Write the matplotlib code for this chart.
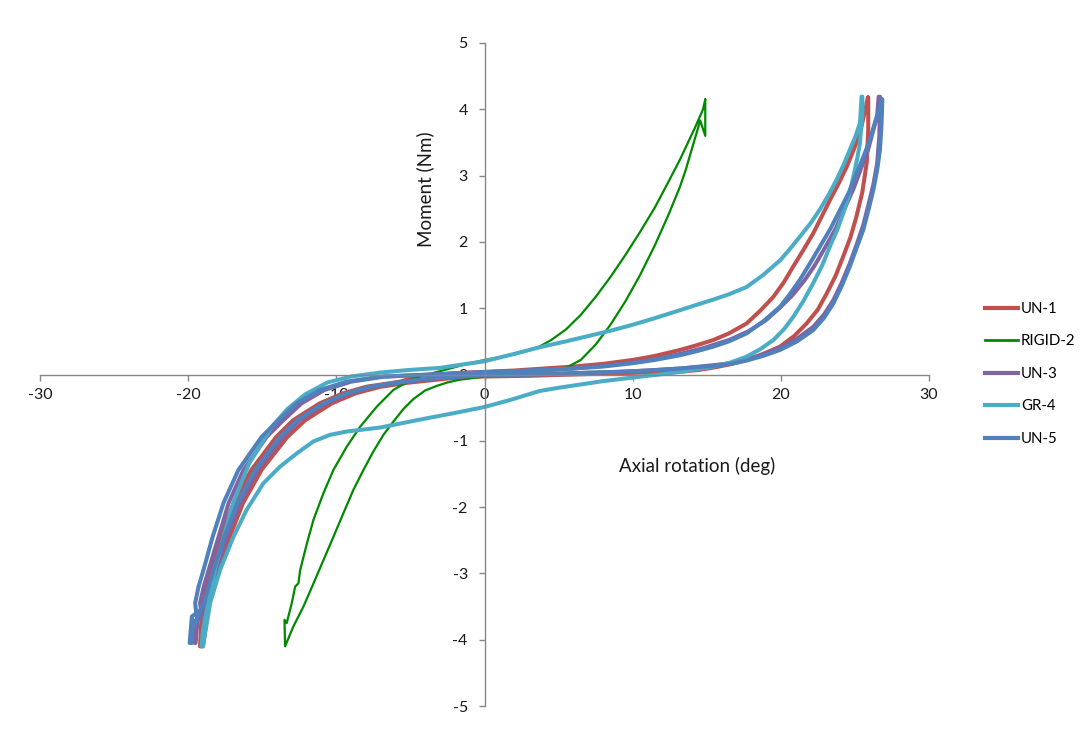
import matplotlib
matplotlib.use("Agg")
import matplotlib.pyplot as plt
from matplotlib.lines import Line2D

plt.rcParams['font.family'] = ['Lato', 'DejaVu Sans']
plt.rcParams['axes.unicode_minus'] = False

# Hysteresis loops. Each specimen has an "upper" branch (top-right tip back to
# the bottom-left tip) and a "lower" branch (bottom-left tip up to the top-right tip).
un1_upper_x = [25.88, 25.6, 25.34, 24.9, 24.44, 23.9, 23.31, 22.75, 22.19, 21.5, 20.84, 20.2, 19.49, 18.6, 17.69, 16.5, 15.44, 14.3, 13.19, 11.5, 10, 8, 6, 4, 2, 0, -2, -4.35,
               -5.7, -7.97, -9.55, -11.12, -12.92, -14.05, -15.74, -16.93, -17.81, -18.55, -19.05, -19.2]
un1_upper_y = [4.18, 3.9, 3.64, 3.38, 3.13, 2.88, 2.63, 2.38, 2.13, 1.87, 1.63, 1.39, 1.17, 0.96, 0.77, 0.62, 0.52, 0.44, 0.37, 0.28, 0.22, 0.16, 0.12, 0.09, 0.06, 0.04, 0.02, -0.02,
               -0.108, -0.184, -0.284, -0.435, -0.69, -0.94, -1.44, -1.94, -2.45, -2.95, -3.45, -4.1]
un1_lower_x = [-19.0, -18.6, -18.0, -17.2, -16.3, -15.05, -13.3, -12.1, -10.3, -8.7, -7.0, -5.0, -2, 0, 3, 6, 9, 11, 13.19, 14.5,
               15.6, 16.7, 17.69, 18.8, 19.94, 20.9, 21.74, 22.5, 23.09, 23.7, 24.21, 24.7, 25.1, 25.5, 25.8, 25.9, 25.9]
un1_lower_y = [-4.1, -3.45, -2.95, -2.45, -1.94, -1.44, -0.94, -0.69, -0.435, -0.284, -0.184, -0.12, -0.05, -0.03, -0.02, 0.0, 0.02, 0.03, 0.04, 0.07,
               0.11, 0.16, 0.22, 0.31, 0.42, 0.58, 0.77, 0.98, 1.22, 1.49, 1.78, 2.07, 2.38, 2.75, 3.2, 3.7, 4.18]

rigid2_upper_x = [14.9, 14.75, 14.2, 13.19, 12.4, 11.5, 10.5, 9.5, 8.5, 7.5, 6.5, 5.5, 4.5, 3.7, 2.0, 0, -1.5, -3.0, -4.8, -6.15,
                  -7.27, -8.4, -9.3, -10.2, -10.87, -11.54, -11.99, -12.44, -12.56, -12.78, -13.01, -13.35, -13.5, -13.46]
rigid2_upper_y = [4.15, 4.0, 3.72, 3.24, 2.9, 2.52, 2.15, 1.8, 1.47, 1.17, 0.9, 0.68, 0.52, 0.42, 0.3, 0.22, 0.14, 0.05, -0.058, -0.233,
                  -0.485, -0.79, -1.09, -1.44, -1.79, -2.19, -2.55, -2.95, -3.15, -3.2, -3.45, -3.75, -3.7, -4.1]
rigid2_lower_x = [-12.9, -12.22, -11.54, -10.87, -10.2, -9.52, -8.85, -8.17, -7.5, -6.82, -6.15, -5.47, -4.8, -4.0, -3.2, -2.5, -1.7, 0, 2, 4,
                  5.5, 6.5, 7.5, 8.5, 9.5, 10.5, 11.5, 12.4, 13.19, 13.6, 13.9, 14.56, 14.9, 14.9]
rigid2_lower_y = [-3.8, -3.5, -3.15, -2.8, -2.45, -2.09, -1.74, -1.44, -1.16, -0.91, -0.71, -0.52, -0.37, -0.24, -0.17, -0.12, -0.08, -0.03, 0.0, 0.04,
                  0.1, 0.22, 0.45, 0.75, 1.1, 1.5, 1.95, 2.4, 2.83, 3.1, 3.33, 3.83, 3.6, 4.15]

un3_upper_x = [26.6, 26.5, 26.2, 25.9, 25.4, 24.9, 24.3, 23.7, 23.0, 22.3, 21.6, 20.8, 19.9, 19.0, 17.8, 16.5, 14.8, 13.19, 11.5, 10, 8, 6, 4, 2, 0, -2, -4.2,
               -6.8, -9.0, -10.8, -12.35, -13.58, -14.7, -16.27, -17.27, -17.95, -18.62, -18.95, -19.2, -19.1, -19.4, -19.55]
un3_upper_y = [4.19, 3.9, 3.65, 3.4, 3.1, 2.8, 2.5, 2.2, 1.92, 1.65, 1.42, 1.2, 1.0, 0.82, 0.65, 0.52, 0.4, 0.31, 0.23, 0.18, 0.13, 0.09, 0.07, 0.05, 0.035, 0.015, -0.005,
               -0.033, -0.108, -0.233, -0.435, -0.69, -0.94, -1.44, -1.94, -2.45, -2.95, -3.2, -3.45, -3.6, -3.65, -4.05]
un3_lower_x = [-19.5, -19.35, -19.1, -18.75, -18.1, -17.4, -16.5, -15.3, -13.6, -12.5, -10.7, -9.1, -7.5, -5.3, -3, 0, 3, 6, 9, 11,
               13.19, 15.44, 16.6, 17.69, 18.8, 19.94, 21.1, 22.19, 22.9, 23.54, 24.1, 24.66, 25.1, 25.56, 25.9, 26.24, 26.5, 26.65, 26.7]
un3_lower_y = [-4.05, -3.65, -3.7, -3.45, -2.95, -2.45, -1.94, -1.44, -0.94, -0.69, -0.435, -0.284, -0.184, -0.108, -0.05, -0.01, 0.0, 0.02, 0.04, 0.06,
               0.09, 0.14, 0.17, 0.23, 0.3, 0.4, 0.54, 0.72, 0.9, 1.12, 1.38, 1.68, 1.95, 2.25, 2.55, 2.86, 3.18, 3.6, 4.19]

gr4_upper_x = [25.45, 25.4, 25.34, 25.05, 24.66, 24.25, 23.77, 23.25, 22.64, 22.0, 21.29, 20.6, 19.94, 18.8, 17.69, 16.5, 15.44, 14.3, 13.19, 11.5,
               10, 8.5, 7, 5.5, 3.7, 2, 0, -1.5, -3, -5, -7, -9.0, -10.6, -12.1, -13.3, -14.4, -15.9, -16.9, -17.55, -18.2, -18.6, -19.0, -19.1]
gr4_upper_y = [4.19, 4.0, 3.79, 3.6, 3.39, 3.17, 2.94, 2.72, 2.49, 2.28, 2.08, 1.89, 1.72, 1.5, 1.32, 1.21, 1.13, 1.05, 0.97, 0.85,
               0.75, 0.66, 0.58, 0.5, 0.41, 0.31, 0.2, 0.15, 0.1, 0.07, 0.03, -0.03, -0.12, -0.3, -0.52, -0.8, -1.35, -1.9, -2.4, -2.95, -3.4, -3.85, -4.1]
gr4_lower_x = [-19.0, -18.52, -17.85, -16.95, -16.05, -14.92, -13.8, -12.67, -11.55, -10.42, -9.3, -7.05, -4.35, -2, 0, 1.8, 3.7, 5, 6.5, 8,
               9.5, 11, 12.2, 13.19, 14.3, 15.44, 16.6, 17.69, 18.6, 19.49, 20.2, 20.84, 21.5, 22.19, 22.8, 23.31, 23.8, 24.21, 24.6, 24.89,
               25.15, 25.34, 25.52, 25.5]
gr4_lower_y = [-4.1, -3.45, -2.95, -2.45, -2.04, -1.64, -1.39, -1.19, -1.01, -0.91, -0.86, -0.8, -0.68, -0.58, -0.49, -0.38, -0.25, -0.2, -0.15, -0.1,
               -0.06, -0.02, 0.01, 0.04, 0.08, 0.12, 0.18, 0.27, 0.38, 0.52, 0.68, 0.87, 1.1, 1.38, 1.65, 1.93, 2.18, 2.43, 2.7, 2.98,
               3.25, 3.49, 3.99, 4.19]

un5_upper_x = [26.8, 26.69, 26.35, 26.01, 25.6, 25.11, 24.6, 23.99, 23.35, 22.64, 21.95, 21.29, 20.6, 19.94, 18.8, 17.69, 16.5, 15.44, 14.3, 13.19,
               11.5, 10, 8, 6, 4, 2, 0, -2, -4.35, -7.05, -9.3, -11.1, -12.67, -13.91, -15.04, -16.61, -17.62, -18.35, -18.97, -19.3, -19.53, -19.45, -19.75, -19.9]
un5_upper_y = [4.15, 4.04, 3.8, 3.54, 3.3, 3.03, 2.75, 2.48, 2.2, 1.93, 1.67, 1.43, 1.21, 1.02, 0.8, 0.62, 0.5, 0.42, 0.35, 0.29,
               0.22, 0.17, 0.12, 0.09, 0.07, 0.05, 0.035, 0.015, -0.008, -0.033, -0.108, -0.233, -0.435, -0.69, -0.94, -1.44, -1.94, -2.45, -2.95, -3.2, -3.45, -3.6, -3.65, -4.05]
un5_lower_x = [-19.75, -19.7, -19.5, -19.3, -18.93, -18.3, -17.56, -16.68, -15.49, -13.8, -12.67, -10.87, -9.3, -7.72, -5.47, -3, 0, 3, 6, 9,
               11, 13.19, 15.44, 16.6, 17.69, 18.8, 19.94, 21.1, 22.19, 22.9, 23.54, 24.1, 24.66, 25.1, 25.56, 25.9, 26.24, 26.5, 26.69, 26.8, 26.85]
un5_lower_y = [-4.05, -3.7, -3.75, -3.6, -3.45, -2.95, -2.45, -1.94, -1.44, -0.94, -0.69, -0.435, -0.284, -0.184, -0.108, -0.05, -0.01, 0.0, 0.02, 0.04,
               0.06, 0.09, 0.13, 0.16, 0.21, 0.28, 0.37, 0.5, 0.67, 0.85, 1.07, 1.33, 1.63, 1.9, 2.18, 2.47, 2.78, 3.08, 3.39, 3.79, 4.15]

labels = ['UN-1', 'RIGID-2', 'UN-3', 'GR-4', 'UN-5']
colors = ['#C0504D', '#008A00', '#8064A2', '#4BACC6', '#4F81BD']
widths = [2.9, 1.6, 2.9, 2.9, 2.9]
series = [
    (un1_upper_x + un1_lower_x, un1_upper_y + un1_lower_y),
    (rigid2_upper_x + rigid2_lower_x, rigid2_upper_y + rigid2_lower_y),
    (un3_upper_x + un3_lower_x, un3_upper_y + un3_lower_y),
    (gr4_upper_x + gr4_lower_x, gr4_upper_y + gr4_lower_y),
    (un5_upper_x + un5_lower_x, un5_upper_y + un5_lower_y),
]

fig = plt.figure(figsize=(10.86, 7.42), dpi=100)
ax = fig.add_axes([40 / 1086, 1 - 706 / 742, (929 - 40) / 1086, (706 - 43) / 742])

for (xs, ys), lab, col, lw in zip(series, labels, colors, widths):
    ax.plot(xs, ys, color=col, lw=lw, label=lab, solid_joinstyle='round', solid_capstyle='round')

ax.set_xlim(-30, 30)
ax.set_ylim(-5, 5)
ax.set_xticks(range(-30, 31, 10))
ax.set_yticks(range(-5, 6))

axis_grey = '#868686'
for side in ('top', 'right'):
    ax.spines[side].set_visible(False)
ax.spines['left'].set_position(('data', 0))
ax.spines['bottom'].set_position(('data', 0))
for side in ('left', 'bottom'):
    ax.spines[side].set_color(axis_grey)
    ax.spines[side].set_linewidth(1.0)
ax.tick_params(axis='both', direction='out', length=4, width=1.0, color=axis_grey,
               labelsize=11.5, labelcolor='#1a1a1a')
ax.tick_params(axis='x', pad=6)
ax.tick_params(axis='y', pad=8)
ax.patch.set_visible(False)

ax.text(-4.0, 2.8, 'Moment (Nm)', rotation=90, ha='center', va='center', fontsize=13.5, color='#1a1a1a')
ax.text(14.34, -1.38, 'Axial rotation (deg)', ha='center', va='center', fontsize=13.5, color='#1a1a1a')

handles = [Line2D([], [], color=c, lw=w) for c, w in zip(colors, [3, 2, 3, 3, 3])]
fig.legend(handles, labels, loc='upper left', bbox_to_anchor=(979 / 1086, 1 - 296 / 742),
           frameon=False, fontsize=10.8, handlelength=2.2, handletextpad=0.2,
           labelspacing=1.23, borderaxespad=0)

fig.savefig('out.png', dpi=100, facecolor='white')
